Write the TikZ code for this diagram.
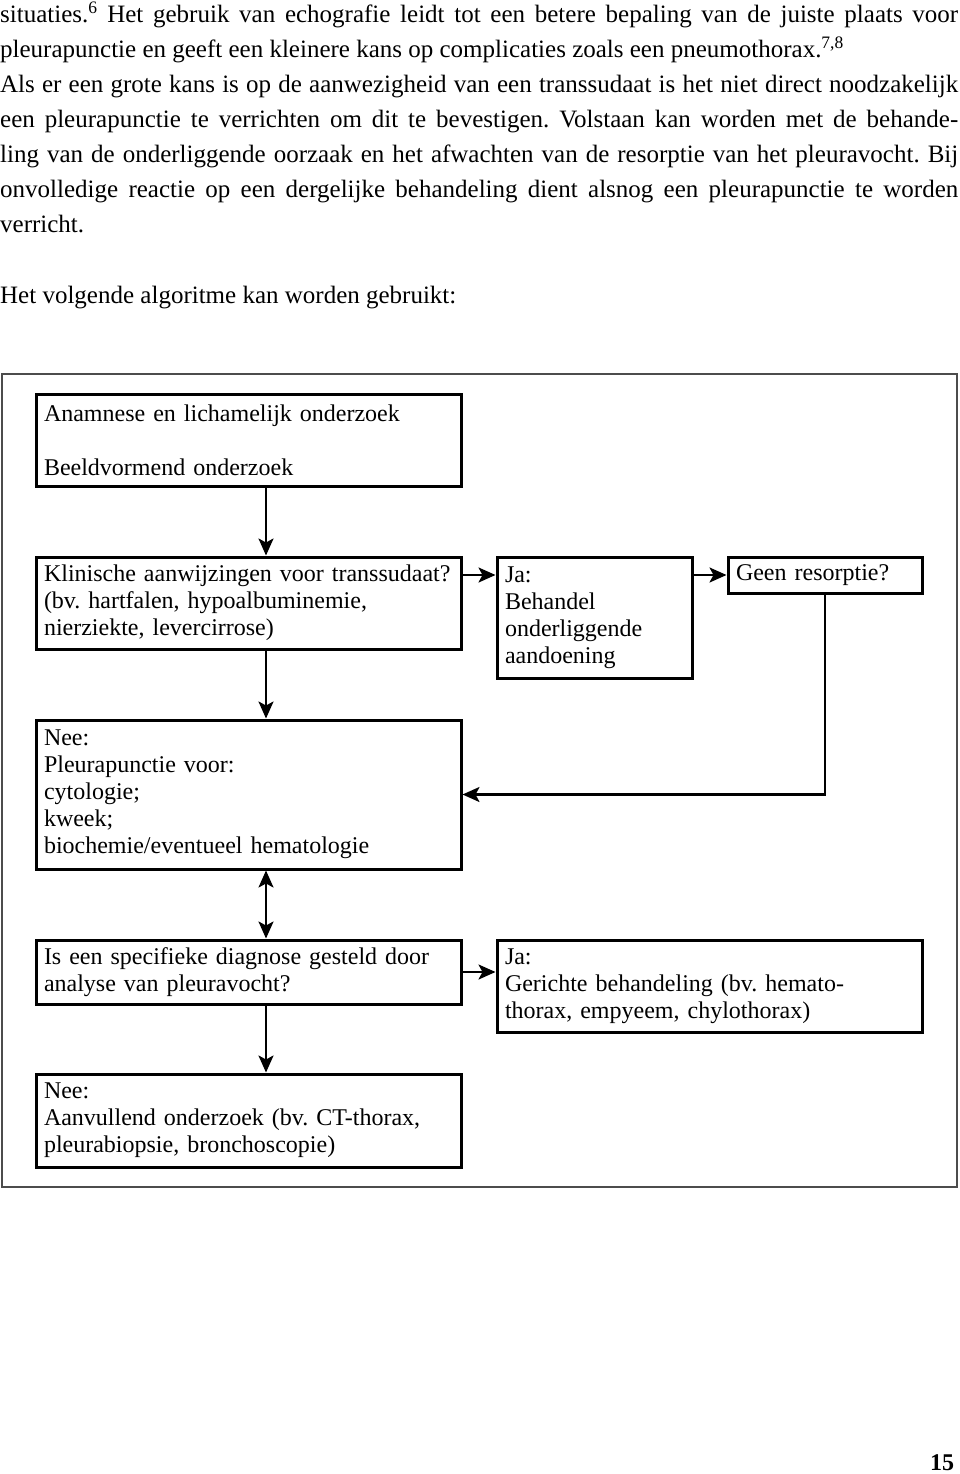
\documentclass[tikz,border=0pt]{standalone}
\usepackage{fontspec}
\setmainfont{Liberation Serif}
\usetikzlibrary{arrows.meta}
\frenchspacing

\begin{document}
\begin{tikzpicture}[x=1pt,y=-1pt,
	>={Stealth[length=17pt,width=15pt,inset=4pt]},
	flowbox/.style={draw,line width=3pt,rectangle,inner xsep=8pt,inner ysep=0pt,align=left,font=\fontsize{24}{27}\selectfont},
	flowarrow/.style={line width=2.4pt,->},
	twoway/.style={line width=2.4pt,<->}]
	\useasboundingbox (0,0) rectangle (960,1474);
	\node[anchor=north west,inner sep=0pt,text width=958pt,align=justify,font=\fontsize{25}{35}\selectfont] (intro) at (0,2) {situaties.\textsuperscript{6} Het gebruik van echografie leidt tot een betere bepaling van de juiste plaats voor\linebreak pleurapunctie en geeft een kleinere kans op complicaties zoals een pneumothorax.\textsuperscript{7,8}\newline Als er een grote kans is op de aanwezigheid van een transsudaat is het niet direct noodzakelijk\linebreak een pleurapunctie te verrichten om dit te bevestigen. Volstaan kan worden met de behande-\linebreak ling van de onderliggende oorzaak en het afwachten van de resorptie van het pleuravocht. Bij\linebreak onvolledige reactie op een dergelijke behandeling dient alsnog een pleurapunctie te worden\linebreak verricht.};
	\node[anchor=base west,inner sep=0pt,font=\fontsize{25}{35}\selectfont] (lead) at (0,303) {Het volgende algoritme kan worden gebruikt:};
	\draw[line width=1.4pt,black!70] (2,374) rectangle (957,1187);
	\coordinate (spine) at (266,0);
	\node[flowbox,text width=409pt,minimum height=92pt] (ana) at (248.5,440) {Anamnese en lichamelijk onderzoek\\[27pt]Beeldvormend onderzoek};
	\node[flowbox,text width=409pt,minimum height=92pt] (klin) at (248.5,603) {Klinische aanwijzingen voor transsudaat?\\(bv. hartfalen, hypoalbuminemie,\\nierziekte, levercirrose)};
	\node[flowbox,text width=179pt,minimum height=121pt] (ja1) at (594.5,617.5) {Ja:\\Behandel\\onderliggende\\aandoening};
	\node[flowbox,text width=178pt,minimum height=36pt] (geen) at (825,575) {Geen resorptie?};
	\node[flowbox,text width=409pt,minimum height=149pt] (nee1) at (248.5,794.5) {Nee:\\Pleurapunctie voor:\\cytologie;\\kweek;\\biochemie/eventueel hematologie};
	\node[flowbox,text width=409pt,minimum height=64pt] (is) at (248.5,972) {Is een specifieke diagnose gesteld door\\analyse van pleuravocht?};
	\node[flowbox,text width=409pt,minimum height=92pt] (ja2) at (709.5,986) {Ja:\\Gerichte behandeling (bv. hemato-\\thorax, empyeem, chylothorax)};
	\node[flowbox,text width=409pt,minimum height=93pt] (nee2) at (248.5,1120.5) {Nee:\\Aanvullend onderzoek (bv. CT-thorax,\\pleurabiopsie, bronchoscopie)};
	\draw[flowarrow] (ana.south -| spine) -- (klin.north -| spine);
	\draw[flowarrow] (klin.east |- geen.west) -- (ja1.west |- geen.west);
	\draw[flowarrow] (ja1.east |- geen.west) -- (geen.west);
	\draw[flowarrow] (geen.south) |- (nee1.east);
	\draw[flowarrow] (klin.south -| spine) -- (nee1.north -| spine);
	\draw[twoway] (nee1.south -| spine) -- (is.north -| spine);
	\draw[flowarrow] (is.east) -- (is.east -| ja2.west);
	\draw[flowarrow] (is.south -| spine) -- (nee2.north -| spine);
	\node[font=\bfseries\fontsize{24}{24}\selectfont,inner sep=0pt] (pageno) at (942,1463) {15};
\end{tikzpicture}
\end{document}
